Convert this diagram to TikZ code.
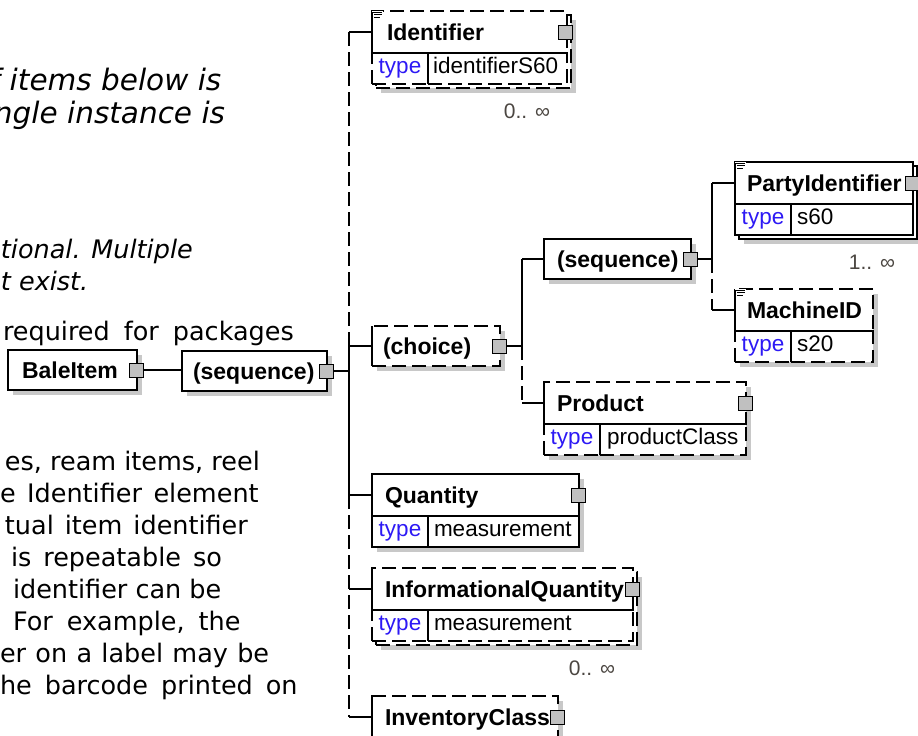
\documentclass[tikz,border=0pt]{standalone}
\usepackage{fontspec}
\setmainfont{Liberation Sans}
\newfontfamily\verdfont{DejaVu Sans}[ItalicFont={DejaVu Sans Oblique}]
\usepackage{tikz}
\usetikzlibrary{positioning,shadows}
\pgfdeclarelayer{background}
\pgfsetlayers{background,main}
\definecolor{typeblue}{RGB}{45,25,245}
\definecolor{shadowgray}{RGB}{200,200,200}
\definecolor{sqgray}{RGB}{192,192,192}
\definecolor{multgray}{RGB}{75,70,65}

\begin{document}
\begin{tikzpicture}[x=1pt, y=-1pt,
        every node/.style={inner sep=0pt, outer sep=0pt},
        txt/.style={anchor=base west, font=\verdfont\fontsize{25.5}{30}\selectfont},
        bigtxt/.style={txt, font=\verdfont\fontsize{29.5}{33}\selectfont\itshape},
        hdr/.style={draw, fill=white, line width=1.3pt, anchor=north west, minimum height=42pt},
        grpbox/.style={hdr, minimum height=40pt},
        cell/.style={draw, fill=white, line width=1.3pt, anchor=north west, minimum height=31pt},
        opt/.style={dash pattern=on 14pt off 6pt},
        shad/.style={drop shadow={shadow xshift=5pt, shadow yshift=-5pt, fill=shadowgray, opacity=1}},
        ttl/.style={anchor=base west, font=\fontsize{23}{26}\selectfont\bfseries},
        tkey/.style={cell, minimum width=56pt, text=typeblue, font=\fontsize{22.5}{26}\selectfont},
        tval/.style={anchor=base west, font=\fontsize{22.5}{26}\selectfont},
        sq/.style={draw, fill=sqgray, line width=1pt, minimum size=14pt},
        mult/.style={anchor=east, text=multgray, font=\fontsize{21}{24}\selectfont},
        docicon/.style={line width=0.9pt},
        conn/.style={line width=1.3pt},
        optconn/.style={conn, opt}
      ]
        % feste Bildgrenzen
        \useasboundingbox (0,0) rectangle (918,736);

        % Text links (abgeschnitten)
        \node[bigtxt] (l1) at (-10,90) {f items below is};
        \node[bigtxt] (l2) at (-6,123) {ngle instance is};
        \node[txt] (l3) at (1,258) {\itshape tional. Multiple};
        \node[txt] (l4) at (1,290) {\itshape t exist.};
        \node[txt] (l5) at (3,340) {\spaceskip=14pt\relax required for packages};
        \node[txt] (l6) at (5,470) {es, ream items, reel};
        \node[txt] (l7) at (0,502) {\spaceskip=11.5pt\relax e Identifier element};
        \node[txt] (l8) at (5,534) {\spaceskip=11pt\relax tual item identifier};
        \node[txt] (l9) at (11,566) {\spaceskip=12pt\relax is repeatable so};
        \node[txt] (l10) at (13,598) {identifier can be};
        \node[txt] (l11) at (13,630) {\spaceskip=14pt\relax For example, the};
        \node[txt] (l12) at (0,662) {\spaceskip=9.3pt\relax er on a label may be};
        \node[txt] (l13) at (0,694) {\spaceskip=13pt\relax he barcode printed on};

        % BaleItem
        \node[grpbox, shad, minimum width=129pt] (bale) at (8,350) {};
        \node[ttl] (baleTitle) at ([shift={(14,8.5)}]bale.west) {BaleItem};
        \node[sq] (baleSq) at ([xshift=-1pt]bale.east) {};

        % (sequence)
        \node[grpbox, shad, minimum width=145pt] (seqA) at (182,351) {};
        \node[ttl] (seqATitle) at ([shift={(11,8.5)}]seqA.west) {(sequence)};
        \node[sq] (seqASq) at ([xshift=-1pt]seqA.east) {};

        % Identifier (optional, 0..unendlich)
        \node[hdr, opt, shad, minimum width=195pt, minimum height=73pt] (identBack) at (376,15) {};
        \node[hdr, opt, minimum width=195pt] (ident) at (372,11) {};
        \node[tkey, opt] (identKey) at (ident.south west) {type};
        \node[cell, opt, minimum width=139pt] (identVal) at (identKey.north east) {};
        \draw[conn] (ident.north west) -- (ident.south west) -- (ident.south east);
        \draw[conn] (identKey.north east) -- (identKey.south east);
        \node[ttl] (identTitle) at ([shift={(15,8.5)}]ident.west) {Identifier};
        \node[tval] (identType) at ([shift={(5,5)}]identVal.west) {identifierS60};
        \node[sq] (identSq) at ([xshift=-2pt]ident.east) {};
        \node[mult] (identMult) at ([shift={(-17,27)}]identVal.south east) {0.. ∞};
        \fill[white] (ident.north west) rectangle ++(11,9);
        \draw[docicon] (ident.north west) ++(0,9) -- ++(0,-8) -- ++(10,0)
          (ident.north west) ++(2,3.5) -- ++(8,0)
          (ident.north west) ++(2,6) -- ++(6,0);

        % (choice)
        \node[grpbox, opt, shad, minimum width=128pt] (choice) at (372,326) {};
        \draw[conn] (choice.north west) -- (choice.south west);
        \node[ttl] (choiceTitle) at ([shift={(11,8.5)}]choice.west) {(choice)};
        \node[sq] (choiceSq) at ([xshift=-1pt]choice.east) {};

        % (sequence) in choice
        \node[grpbox, shad, minimum width=147pt] (seqB) at (544,239) {};
        \node[ttl] (seqBTitle) at ([shift={(13,8.5)}]seqB.west) {(sequence)};
        \node[sq] (seqBSq) at ([xshift=-1pt]seqB.east) {};

        % PartyIdentifier (1..unendlich)
        \node[hdr, shad, minimum width=178pt, minimum height=73pt] (partyBack) at (739,166) {};
        \node[hdr, minimum width=178pt] (party) at (735,162) {};
        \node[tkey] (partyKey) at (party.south west) {type};
        \node[cell, minimum width=122pt] (partyVal) at (partyKey.north east) {};
        \node[ttl] (partyTitle) at ([shift={(12,8.5)}]party.west) {PartyIdentifier};
        \node[tval] (partyType) at ([shift={(6,5)}]partyVal.west) {s60};
        \node[sq] (partySq) at ([xshift=-1pt]party.east) {};
        \node[mult] (partyMult) at ([shift={(-18,27)}]partyVal.south east) {1.. ∞};
        \fill[white] (party.north west) rectangle ++(11,9);
        \draw[docicon] (party.north west) ++(0,9) -- ++(0,-8) -- ++(10,0)
          (party.north west) ++(2,3.5) -- ++(8,0)
          (party.north west) ++(2,6) -- ++(6,0);

        % MachineID (optional)
        \node[hdr, opt, shad, minimum width=138pt] (mach) at (735,289) {};
        \node[tkey, opt, shad] (machKey) at (mach.south west) {type};
        \node[cell, opt, shad, minimum width=82pt] (machVal) at (machKey.north east) {};
        \draw[conn] (mach.north west) -- (mach.south west) -- (mach.south east);
        \draw[conn] (machKey.north east) -- (machKey.south east);
        \node[ttl] (machTitle) at ([shift={(12,8.5)}]mach.west) {MachineID};
        \node[tval] (machType) at ([shift={(6,5)}]machVal.west) {s20};
        \fill[white] (mach.north west) rectangle ++(11,9);
        \draw[docicon] (mach.north west) ++(0,9) -- ++(0,-8) -- ++(10,0)
          (mach.north west) ++(2,3.5) -- ++(8,0)
          (mach.north west) ++(2,6) -- ++(6,0);

        % Product (optional)
        \node[hdr, opt, shad, minimum width=202pt] (prod) at (544,382) {};
        \node[tkey, opt, shad] (prodKey) at (prod.south west) {type};
        \node[cell, opt, shad, minimum width=146pt] (prodVal) at (prodKey.north east) {};
        \draw[conn] (prod.north west) -- (prod.south west) -- (prod.south east);
        \draw[conn] (prodKey.north east) -- (prodKey.south east);
        \node[ttl] (prodTitle) at ([shift={(13,8.5)}]prod.west) {Product};
        \node[tval] (prodType) at ([shift={(7,5)}]prodVal.west) {productClass};
        \node[sq] (prodSq) at ([xshift=-1pt]prod.east) {};

        % Quantity
        \node[hdr, shad, minimum width=207pt] (quant) at (372,474) {};
        \node[tkey, shad] (quantKey) at (quant.south west) {type};
        \node[cell, shad, minimum width=151pt] (quantVal) at (quantKey.north east) {};
        \node[ttl] (quantTitle) at ([shift={(13,8.5)}]quant.west) {Quantity};
        \node[tval] (quantType) at ([shift={(6,5)}]quantVal.west) {measurement};
        \node[sq] (quantSq) at ([xshift=-1pt]quant.east) {};

        % InformationalQuantity (optional, 0..unendlich)
        \node[hdr, opt, shad, minimum width=261pt, minimum height=73pt] (infoBack) at (376,572) {};
        \node[hdr, opt, minimum width=261pt] (info) at (372,568) {};
        \node[tkey, opt] (infoKey) at (info.south west) {type};
        \node[cell, opt, minimum width=205pt] (infoVal) at (infoKey.north east) {};
        \draw[conn] (info.north west) -- (info.south west) -- (info.south east);
        \draw[conn] (infoKey.north east) -- (infoKey.south east);
        \node[ttl] (infoTitle) at ([shift={(13,8.5)}]info.west) {InformationalQuantity};
        \node[tval] (infoType) at ([shift={(6,5)}]infoVal.west) {measurement};
        \node[sq] (infoSq) at ([xshift=-1pt]info.east) {};
        \node[mult] (infoMult) at ([shift={(-18,27)}]infoVal.south east) {0.. ∞};

        % InventoryClass (optional, unten abgeschnitten)
        \node[hdr, opt, shad, minimum width=186pt] (inv) at (372,696) {};
        \draw[conn] (inv.north west) -- (inv.south west);
        \node[ttl] (invTitle) at ([shift={(13,8.5)}]inv.west) {InventoryClass};
        \node[sq] (invSq) at ([xshift=-1pt]inv.east) {};

        % Verbindungen
        \begin{pgfonlayer}{background}
          \fill[white] (0,0) rectangle (918,736);
          \coordinate (busA) at (349,0);
          \coordinate (busB) at (522,0);
          \coordinate (busC) at (712,0);
          \draw[conn] (baleSq.east) -- (baleSq.east -| seqA.west);
          \draw[conn] (seqASq.east) -- (seqASq.east -| busA);
          \draw[conn] (busA |- ident.west) -- (ident.west);
          \draw[conn] (busA |- choice.west) -- (choice.west);
          \draw[conn] (busA |- quant.west) -- (quant.west);
          \draw[conn] (busA |- info.west) -- (info.west);
          \draw[conn] (busA |- inv.west) -- (inv.west);
          \draw[optconn] (busA |- ident.west) -- (busA |- choice.west);
          \draw[conn] (busA |- choice.west) -- (busA |- quant.west);
          \draw[optconn] (busA |- quant.west) -- (busA |- inv.west);
          % choice
          \draw[conn] (choiceSq.east) -- (choiceSq.east -| busB);
          \draw[conn] (busB |- seqB.west) -- (seqB.west);
          \draw[conn] (busB |- prod.west) -- (prod.west);
          \draw[conn] (busB |- seqB.west) -- (busB |- choiceSq.east);
          \draw[optconn] (busB |- choiceSq.east) -- (busB |- prod.west);
          % sequence
          \draw[conn] (seqBSq.east) -- (seqBSq.east -| busC);
          \draw[conn] (busC |- party.west) -- (party.west);
          \draw[conn] (busC |- mach.west) -- (mach.west);
          \draw[conn] (busC |- party.west) -- (busC |- seqBSq.east);
          \draw[optconn] (busC |- seqBSq.east) -- (busC |- mach.west);
        \end{pgfonlayer}
      \end{tikzpicture}
\end{document}
